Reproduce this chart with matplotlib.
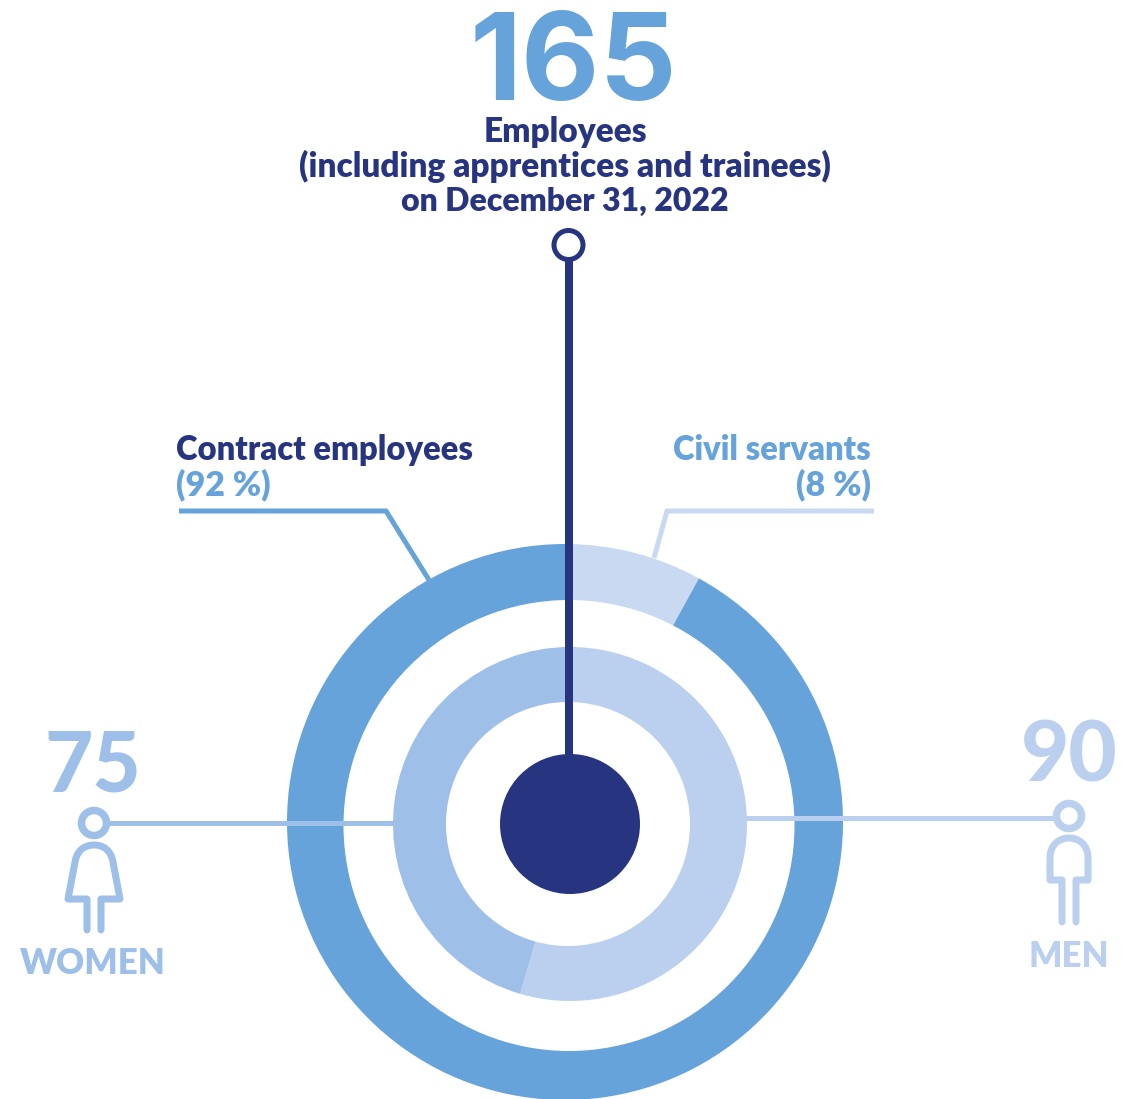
import matplotlib
matplotlib.use("Agg")
import matplotlib.pyplot as plt
from matplotlib.path import Path
from matplotlib.patches import Circle, PathPatch

plt.rcParams['font.family'] = ['Lato', 'DejaVu Sans']

# Headcount split by contract type (percent) and by gender
contract_labels = ["Civil servants", "Contract employees"]
contract_share = [8, 92]
gender_labels = ["MEN", "WOMEN"]
gender_counts = [90, 75]
total_employees = 165

DARK = "#27347f"
BLUE = "#66a3da"
PALE = "#c9d9f2"
WOMEN = "#9dbfe8"
MEN = "#bbd0ef"


def px(w):
    # pixel width to points at dpi 100
    return w * 0.72


def person(ax, verts, codes, color):
    ax.add_patch(PathPatch(Path(verts, codes), fill=False, edgecolor=color, lw=px(7),
                           capstyle='round', joinstyle='round', zorder=5))


def head(ax, x, y, color, r=12.5, stroke=7.5):
    ax.add_patch(Circle((x, y), r, facecolor="white", edgecolor=color, lw=px(stroke), zorder=6))


fig = plt.figure(figsize=(11.30, 10.99), dpi=100)
ax = fig.add_axes([0, 0, 1, 1])

# y grows downward here, so counterclock=True runs clockwise on screen
ax.pie(contract_share, colors=[PALE, BLUE], startangle=-90, counterclock=True,
       radius=278, center=(565, 822), wedgeprops=dict(linewidth=0))
ax.add_patch(Circle((569, 825.5), 225.5, facecolor="white", edgecolor="none", zorder=1.5))
ax.pie(gender_counts, colors=[MEN, WOMEN], startangle=-90, counterclock=True,
       radius=177, center=(570, 824), wedgeprops=dict(linewidth=0, zorder=2))
ax.add_patch(Circle((568, 824), 122, facecolor="white", edgecolor="none", zorder=2.5))
ax.add_patch(Circle((570, 824), 70, facecolor=DARK, edgecolor="none", zorder=4))

ax.set_xlim(0, 1130)
ax.set_ylim(1099, 0)
ax.set_aspect('auto')
ax.axis('off')

# stems
ax.plot([569, 569], [258, 760], color=DARK, lw=px(8), solid_capstyle='butt', zorder=3)
head(ax, 568.5, 245, DARK, r=14.5, stroke=5)
ax.plot([105, 395], [823, 823], color=WOMEN, lw=px(5), solid_capstyle='butt', zorder=3)
ax.plot([745, 1058], [818, 818], color=MEN, lw=px(5), solid_capstyle='butt', zorder=3)

# leader lines
ax.plot([179, 386, 429], [511, 511, 580], color=BLUE, lw=px(5), solid_joinstyle='miter',
        solid_capstyle='butt', zorder=1)
ax.plot([874, 667, 654], [511, 511, 558], color=PALE, lw=px(5), solid_joinstyle='miter',
        solid_capstyle='butt', zorder=1)

# pictograms
head(ax, 94, 823, WOMEN)
person(ax,
       [(87, 930), (87, 899), (68, 899), (75, 862), (77, 850), (85, 845), (94, 845),
        (103, 845), (111, 850), (113, 862), (120, 899), (101, 899), (101, 930)],
       [Path.MOVETO, Path.LINETO, Path.LINETO, Path.LINETO,
        Path.CURVE4, Path.CURVE4, Path.CURVE4, Path.CURVE4, Path.CURVE4, Path.CURVE4,
        Path.LINETO, Path.LINETO, Path.LINETO],
       WOMEN)
head(ax, 1069, 816, MEN)
person(ax,
       [(1062, 922), (1062, 880), (1050, 880), (1050, 858), (1050, 844), (1060, 838), (1069, 838),
        (1078, 838), (1088, 844), (1088, 858), (1088, 880), (1076, 880), (1076, 922)],
       [Path.MOVETO, Path.LINETO, Path.LINETO, Path.LINETO,
        Path.CURVE4, Path.CURVE4, Path.CURVE4, Path.CURVE4, Path.CURVE4, Path.CURVE4,
        Path.LINETO, Path.LINETO, Path.LINETO],
       MEN)

# headline block
ax.text(573, 100, str(total_employees), color=BLUE, fontsize=87, fontweight='bold',
        family=['Inter', 'Lato'], ha='center', va='baseline')
ax.text(565, 142, "Employees", color=DARK, fontsize=24, fontweight='heavy', ha='center', va='baseline')
ax.text(565, 177, "(including apprentices and trainees)", color=DARK, fontsize=24, fontweight='heavy',
        ha='center', va='baseline')
ax.text(565, 211, "on December 31, 2022", color=DARK, fontsize=23, fontweight='heavy',
        ha='center', va='baseline')

# ring labels
ax.text(176, 460, contract_labels[1], color=DARK, fontsize=23.6, fontweight='heavy', ha='left', va='baseline')
ax.text(176, 495, f"({contract_share[1]} %)", color=BLUE, fontsize=24.5, fontweight='heavy', ha='left', va='baseline')
ax.text(871, 460, contract_labels[0], color=BLUE, fontsize=23.6, fontweight='heavy', ha='right', va='baseline')
ax.text(871, 495, f"({contract_share[0]} %)", color=BLUE, fontsize=24.5, fontweight='heavy', ha='right', va='baseline')

# gender labels
ax.text(93, 792, str(gender_counts[1]), color=WOMEN, fontsize=60, fontweight='black', ha='center', va='baseline')
ax.text(93, 974, gender_labels[1], color=WOMEN, fontsize=25, fontweight='heavy', ha='center', va='baseline')
ax.text(1069, 781, str(gender_counts[0]), color=MEN, fontsize=60, fontweight='black', ha='center', va='baseline')
ax.text(1069, 967, gender_labels[0], color=MEN, fontsize=25, fontweight='heavy', ha='center', va='baseline')

fig.savefig("out.png", dpi=100)
